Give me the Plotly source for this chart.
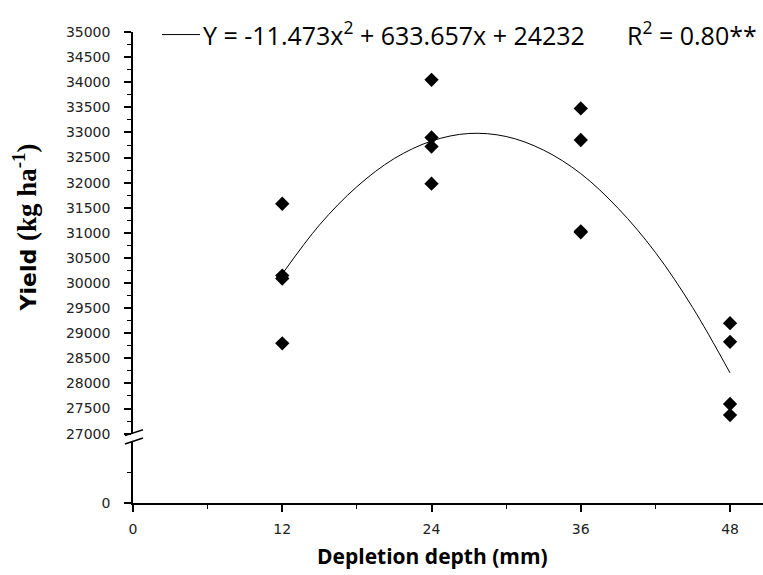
import plotly.graph_objects as go

# ---- data ----
depth = [12, 12, 12, 12, 24, 24, 24, 24, 36, 36, 36, 36, 48, 48, 48, 48]
yield_obs = [31580, 30150, 30090, 28800,
             34050, 32900, 32720, 31980,
             33480, 32850, 31030, 31010,
             29200, 28830, 27590, 27370]

fit_x = [12, 15, 18, 21, 24, 27, 30, 33, 36, 39, 42, 45, 48]
fit_y = [30180, 31160, 31920, 32480, 32830, 32980, 32920, 32650, 32180, 31490, 30610, 29510, 28210]

x_ticks = [0, 12, 24, 36, 48]
y_ticks_top = list(range(27000, 35001, 500))
y_ticks_bottom = [0]

W, H = 763, 575
L, R, T, B = 133, 0, 0, 72
PW, PH = W - L - R, H - T - B


def px(x):
    return (x - L) / PW


def py(y):
    return (H - B - y) / PH


fig = go.Figure()
fig.add_trace(go.Scatter(x=fit_x, y=fit_y, mode="lines", line=dict(color="black", width=1, shape="spline"),
                         xaxis="x", yaxis="y", showlegend=False, hoverinfo="skip"))
fig.add_trace(go.Scatter(x=depth, y=yield_obs, mode="markers",
                         marker=dict(symbol="diamond", size=11, color="black"),
                         xaxis="x", yaxis="y", showlegend=False))
fig.add_trace(go.Scatter(x=[], y=[], xaxis="x2", yaxis="y2", showlegend=False))

tickfont = dict(family="DejaVu Sans", size=14, color="#222")
xr = [0, 50.65]

fig.update_layout(
    width=W, height=H,
    margin=dict(l=L, r=R, t=T, b=B),
    paper_bgcolor="white", plot_bgcolor="white",
    xaxis=dict(domain=[0, 1], range=xr, anchor="y", visible=False),
    yaxis=dict(domain=[py(432.5), py(24.5)], range=[27000, 35000], anchor="x",
               tickvals=y_ticks_top, ticktext=[str(v) for v in y_ticks_top],
               ticks="outside", ticklen=7, tickwidth=1.5, tickcolor="black",
               minor=dict(dtick=250, ticks="outside", ticklen=4, tickwidth=1.2, tickcolor="black"),
               showline=True, linecolor="black", linewidth=1.5, showgrid=False, zeroline=False,
               tickfont=tickfont, ticklabelstandoff=11),
    xaxis2=dict(domain=[0, 1], range=xr, anchor="y2",
                tickvals=x_ticks, ticktext=[str(v) for v in x_ticks],
                ticks="outside", ticklen=7, tickwidth=1.5, tickcolor="black",
                minor=dict(dtick=6, ticks="outside", ticklen=4, tickwidth=1.2, tickcolor="black"),
                showline=True, linecolor="black", linewidth=1.5, showgrid=False, zeroline=False,
                tickfont=tickfont, ticklabelstandoff=5),
    yaxis2=dict(domain=[0, py(440)], range=[0, 1000], anchor="x2",
                tickvals=y_ticks_bottom, ticktext=[str(v) for v in y_ticks_bottom],
                ticks="outside", ticklen=7, tickwidth=1.5, tickcolor="black",
                minor=dict(tickvals=[500], ticks="outside", ticklen=4, tickwidth=1.2, tickcolor="black"),
                showline=True, linecolor="black", linewidth=1.5, showgrid=False, zeroline=False,
                tickfont=tickfont, ticklabelstandoff=11),
)

# axis break marks
for (x0, y0, x1, y1) in [(125, 434.5, 143, 428.5), (125, 443, 143, 437)]:
    fig.add_shape(type="line", xref="paper", yref="paper",
                  x0=px(x0), y0=py(y0), x1=px(x1), y1=py(y1),
                  line=dict(color="black", width=1.5))

# legend-like line and equation
fig.add_shape(type="line", xref="paper", yref="paper",
              x0=px(162), y0=py(27), x1=px(200), y1=py(27), line=dict(color="black", width=1))
eqfont = dict(family="Open Sans", size=25, color="black")
fig.add_annotation(xref="paper", yref="paper", x=px(201), y=py(26), xanchor="left", yanchor="middle",
                   text="Y = -11.473x<sup>2</sup> + 633.657x + 24232", showarrow=False, font=eqfont)
fig.add_annotation(xref="paper", yref="paper", x=px(759), y=py(26), xanchor="right", yanchor="middle",
                   text="R<sup>2</sup> = 0.80**", showarrow=False, font=eqfont)

# axis titles
fig.add_annotation(xref="paper", yref="paper", x=px(432), y=py(557), xanchor="center", yanchor="middle",
                   text="<b>Depletion depth (mm)</b>", showarrow=False,
                   font=dict(family="Open Sans", size=21, color="black"))
fig.add_annotation(xref="paper", yref="paper", x=px(25), y=py(223), xanchor="center", yanchor="middle",
                   textangle=-90, showarrow=False,
                   text="<b>Yield </b><span style='font-family:Liberation Serif;font-size:27px'><b>(kg ha<sup>-1</sup>)</b></span>",
                   font=dict(family="DejaVu Sans", size=22, color="black"))

fig.write_html("out.html")
